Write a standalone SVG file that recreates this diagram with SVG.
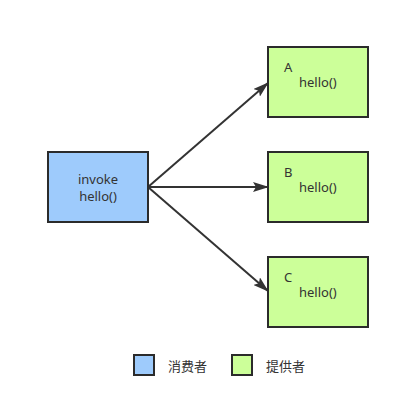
<svg xmlns="http://www.w3.org/2000/svg" width="401" height="418" viewBox="0 0 401 418">
<defs>
<style>
.box{stroke:#2b2b2b;stroke-width:2}
.consumer{fill:#9ECBFC}
.provider{fill:#CCFF99}
text{font-family:"Noto Sans","Noto Sans CJK SC",sans-serif;font-size:13px;fill:#333}
.edge{stroke:#333;stroke-width:2;fill:none;marker-end:url(#arr)}
</style>
<marker id="arr" viewBox="0 0 16 10" refX="15" refY="5" markerWidth="16" markerHeight="10" orient="auto" markerUnits="userSpaceOnUse">
<path d="M0,0 L16,5 L0,10 L3,5 Z" fill="#333"/>
</marker>
</defs>
<rect width="401" height="418" fill="#fff"/>
<g id="connectors">
<line class="edge" x1="148" y1="187" x2="268" y2="83"/>
<line class="edge" x1="148" y1="187" x2="268" y2="187"/>
<line class="edge" x1="148" y1="187" x2="268" y2="291"/>
</g>
<g id="consumer">
<rect class="box consumer" x="48" y="152" width="100" height="70"/>
<text x="98" y="184" text-anchor="middle">invoke</text>
<text x="98" y="201" text-anchor="middle">hello()</text>
</g>
<g id="providerA">
<rect class="box provider" x="268" y="47" width="100" height="70"/>
<text x="284" y="72">A</text>
<text x="299" y="87">hello()</text>
</g>
<g id="providerB">
<rect class="box provider" x="268" y="152" width="100" height="70"/>
<text x="284" y="177">B</text>
<text x="299" y="192">hello()</text>
</g>
<g id="providerC">
<rect class="box provider" x="268" y="257" width="100" height="70"/>
<text x="284" y="282">C</text>
<text x="299" y="297">hello()</text>
</g>
<g id="legend">
<rect class="box consumer" x="134" y="355" width="20" height="20"/>
<text x="168" y="371">消费者</text>
<rect class="box provider" x="232" y="355" width="20" height="20"/>
<text x="266" y="371">提供者</text>
</g>
</svg>
